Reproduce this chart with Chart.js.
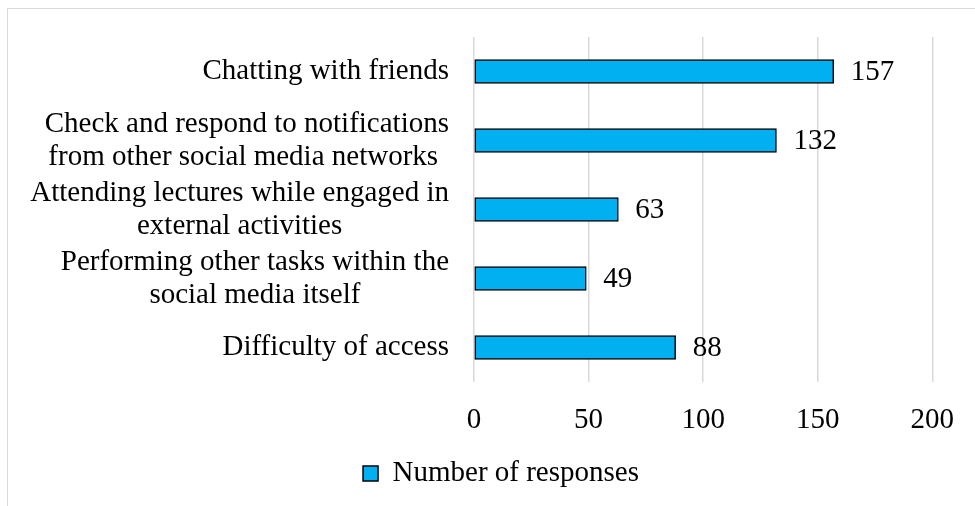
<!DOCTYPE html>
<html>
<head>
<meta charset="utf-8">
<script src="https://cdn.jsdelivr.net/npm/chart.js@4/dist/chart.umd.min.js"></script>
<style>
  body { margin: 0; background: #fff; }
  #frame { position: absolute; left: 7px; top: 8px; width: 1000px; height: 600px; border: 1.5px solid #d9d9d9; }
  #myChart { position: absolute; left: 0; top: 0; }
</style>
</head>
<body>
<div id="frame"></div>
<canvas id="myChart" width="975" height="506"></canvas>
<script>
// chart data
const categories = [
    ['Chatting with friends'],
    ['Check and respond to notifications', 'from other social media networks '],
    ['Attending lectures while engaged in', 'external activities'],
    ['Performing other tasks within the', 'social media itself'],
    ['Difficulty of access']
];
const responses = [157, 132, 63, 49, 88];
const seriesName = 'Number of responses';
const axisMin = 0;
const axisMax = 200;
const axisStep = 50;

const FONT = '"Liberation Serif", "Times New Roman", serif';
const FONT_SIZE = 29;

// draws the category names: block right-aligned, lines centered inside it
const categoryLabels = {
    id: 'categoryLabels',
    afterDraw(chart) {
        const ctx = chart.ctx;
        const yScale = chart.scales.y;
        ctx.save();
        ctx.font = FONT_SIZE + 'px ' + FONT;
        ctx.fillStyle = '#000';
        ctx.textAlign = 'center';
        ctx.textBaseline = 'middle';
        categories.forEach(function (lines, i) {
            let maxW = Math.max(...lines.map(l => ctx.measureText(l).width));
            let cx = chart.chartArea.left - 25 - maxW / 2;
            let cy = yScale.getPixelForValue(i);
            lines.forEach(function (l, j) {
                ctx.fillText(l, cx, cy + (j - (lines.length - 1) / 2) * 33);
            });
        });
        ctx.restore();
    }
};

// value labels at the end of each bar
const valueLabels = {
    id: 'valueLabels',
    afterDatasetsDraw(chart) {
        const ctx = chart.ctx;
        const meta = chart.getDatasetMeta(0);
        ctx.save();
        ctx.font = FONT_SIZE + 'px ' + FONT;
        ctx.fillStyle = '#000';
        ctx.textAlign = 'left';
        ctx.textBaseline = 'middle';
        meta.data.forEach(function (bar, i) {
            ctx.fillText(String(responses[i]), bar.x + 17, bar.y + 1);
        });
        ctx.restore();
    }
};

let config = {
    type: 'bar',
    data: {
        labels: categories,
        datasets: [{
            label: seriesName,
            data: responses,
            backgroundColor: '#00b0f0',
            borderColor: '#000',
            borderWidth: 1.5,
            borderSkipped: false,
            barThickness: 24
        }]
    },
    options: {
        indexAxis: 'y',
        responsive: false,
        animation: false,
        layout: {
            padding: { top: 37, right: 41, bottom: 8, left: 68 }
        },
        scales: {
            x: {
                min: axisMin,
                max: axisMax,
                ticks: {
                    stepSize: axisStep,
                    color: '#000',
                    font: { family: FONT, size: FONT_SIZE },
                    padding: 21
                },
                grid: { color: '#d9d9d9', lineWidth: 1.5, drawTicks: false },
                border: { display: false },
                afterFit(scale) { scale.height = 67; }
            },
            y: {
                ticks: { display: false },
                grid: { display: false },
                border: { display: false },
                afterFit(scale) { scale.width = 406; }
            }
        },
        plugins: {
            legend: {
                position: 'bottom',
                labels: {
                    color: '#000',
                    font: { family: FONT, size: FONT_SIZE },
                    boxWidth: 15,
                    boxHeight: 15
                }
            },
            tooltip: { enabled: false }
        }
    },
    plugins: [categoryLabels, valueLabels]
};

window.chart = new Chart(document.getElementById('myChart'), config);
</script>
</body>
</html>
